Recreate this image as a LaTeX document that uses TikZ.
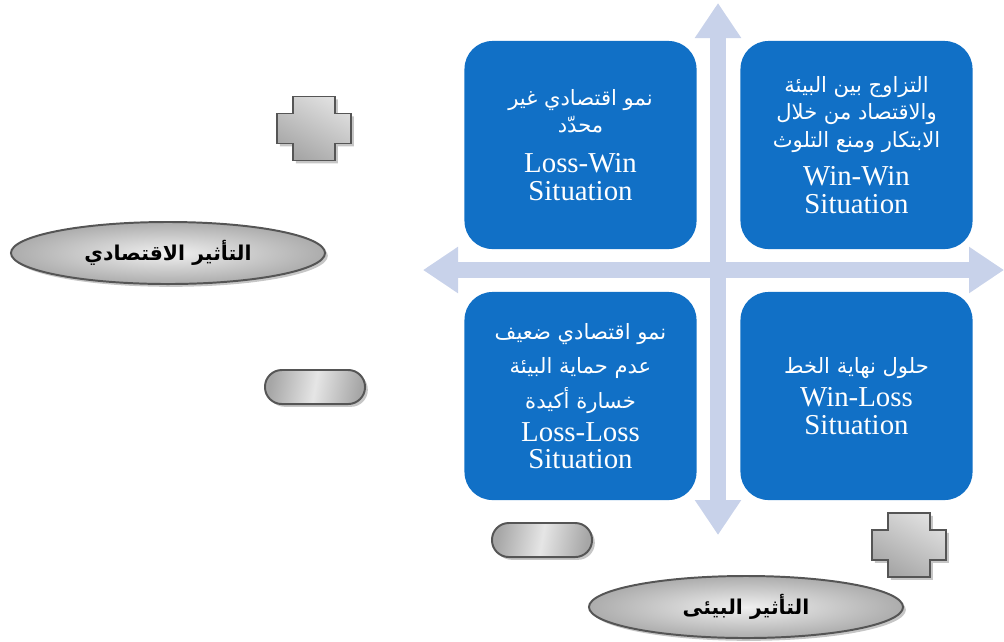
\documentclass[tikz,border=0pt]{standalone}
\usepackage{fontspec}
\setmainfont{Liberation Serif}
\newfontfamily\arabicfont[Script=Arabic]{DejaVu Sans}
\TeXXeTstate=1
\usetikzlibrary{arrows.meta,shapes.geometric,shadows}
\definecolor{boxblue}{RGB}{17,112,198}
\definecolor{axisblue}{RGB}{200,210,234}
\definecolor{rimgray}{RGB}{85,85,85}
\newcommand{\artxt}[1]{{\arabicfont\fontsize{15}{19.5}\selectfont\beginR #1\endR}}
\newcommand{\arbold}[1]{{\arabicfont\bfseries\fontsize{14.5}{17}\selectfont\beginR #1\endR}}
\tikzset{
	quad/.style={fill=boxblue, rounded corners=0.7cm, minimum width=5.8cm, minimum height=5.2cm,
		text=white, align=center, font=\fontsize{20.5}{19.5}\selectfont},
	axisarrow/.style={draw=axisblue, line width=0.4cm, {Triangle[width=1.1cm,length=0.875cm]}-{Triangle[width=1.1cm,length=0.875cm]}},
	grayshape/.style={draw=rimgray, line width=1.4pt, drop shadow={shadow xshift=2pt, shadow yshift=-2pt, opacity=0.45}},
	effect/.style={grayshape, ellipse, minimum width=7.85cm, minimum height=1.55cm,
		inner color=gray!12, outer color=gray!65},
	minusbar/.style={grayshape, rounded corners=0.42cm, minimum width=2.5cm, minimum height=0.85cm,
		shading=axis, left color=gray!70, right color=gray!70, middle color=gray!20, shading angle=80}
}
\begin{document}
\begin{tikzpicture}[x=0.025cm, y=-0.025cm]
	\useasboundingbox (0,0) rectangle (1004,641);
	\coordinate (top) at (718,3);
	\coordinate (bottom) at (718,535);
	\coordinate (left) at (423,270);
	\coordinate (right) at (1004,270);
	\draw[axisarrow] (bottom) -- (top);
	\draw[axisarrow] (left) -- (right);
	\node[quad] (losswin) at (580.5,145) {\artxt{نمو اقتصادي غير}\\ \artxt{محدّد}\\[9pt] Loss-Win\\ Situation};
	\node[quad] (winwin) at (856.5,145) {\artxt{التزاوج بين البيئة}\\ \artxt{والاقتصاد من خلال}\\ \artxt{الابتكار ومنع التلوث}\\[8pt] Win-Win\\ Situation};
	\node[quad] (lossloss) at (580.5,396) {\artxt{نمو اقتصادي ضعيف}\\[5pt] \artxt{عدم حماية البيئة}\\[5pt] \artxt{خسارة أكيدة}\\[4pt] Loss-Loss\\ Situation};
	\node[quad] (winloss) at (856.5,396) {\artxt{حلول نهاية الخط}\\[4pt] Win-Loss\\ Situation};
	\node[effect] (econ) at (168,253) {\arbold{التأثير الاقتصادي}};
	\node[effect] (env) at (746,607) {\arbold{التأثير البيئى}};
	\node[minusbar] (econminus) at (315,387) {};
	\node[minusbar] (envminus) at (542,540) {};
	\foreach \cx/\cy in {314/128.5, 909/545}
		\draw[grayshape, shading=axis, top color=gray!25, bottom color=gray!70, shading angle=-30]
			(\cx-21,\cy-32) -- (\cx+21,\cy-32) -- (\cx+21,\cy-15) -- (\cx+37,\cy-15) -- (\cx+37,\cy+15)
			-- (\cx+21,\cy+15) -- (\cx+21,\cy+32) -- (\cx-21,\cy+32) -- (\cx-21,\cy+15) -- (\cx-37,\cy+15)
			-- (\cx-37,\cy-15) -- (\cx-21,\cy-15) -- cycle;
\end{tikzpicture}
\end{document}
